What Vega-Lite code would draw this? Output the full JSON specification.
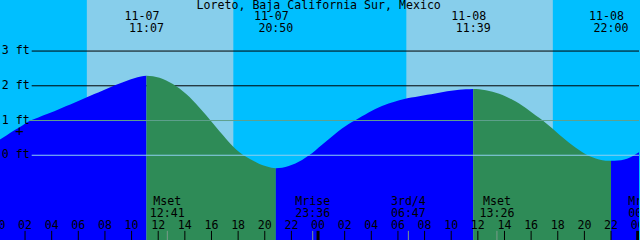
{
  "$schema": "https://vega.github.io/schema/vega-lite/v6.json",
  "width": 640,
  "height": 240,
  "padding": 0,
  "autosize": {"type": "fit", "contains": "padding"},
  "background": "#00BFFF",
  "config": {"view": {"stroke": null, "fill": "#00BFFF"}},
  "datasets": {
    "days": [{"start": 6.64, "end": 17.64}, {"start": 30.63, "end": 41.63}],
    "levels": [{"ft": 3, "lab": "3 ft"}, {"ft": 2, "lab": "2 ft"}, {"ft": 1, "lab": "1 ft"}, {"ft": 0, "lab": "0 ft"}],
    "tide": [
      {"h": 0.0, "ft": 0.42, "seg": 1, "dir": "rise"},
      {"h": 0.6, "ft": 0.57, "seg": 1, "dir": "rise"},
      {"h": 1.2, "ft": 0.72, "seg": 1, "dir": "rise"},
      {"h": 1.8, "ft": 0.86, "seg": 1, "dir": "rise"},
      {"h": 2.4, "ft": 1.0, "seg": 1, "dir": "rise"},
      {"h": 3.0, "ft": 1.09, "seg": 1, "dir": "rise"},
      {"h": 3.6, "ft": 1.18, "seg": 1, "dir": "rise"},
      {"h": 4.2, "ft": 1.27, "seg": 1, "dir": "rise"},
      {"h": 4.8, "ft": 1.37, "seg": 1, "dir": "rise"},
      {"h": 5.4, "ft": 1.46, "seg": 1, "dir": "rise"},
      {"h": 6.0, "ft": 1.56, "seg": 1, "dir": "rise"},
      {"h": 6.6, "ft": 1.66, "seg": 1, "dir": "rise"},
      {"h": 7.2, "ft": 1.76, "seg": 1, "dir": "rise"},
      {"h": 7.8, "ft": 1.86, "seg": 1, "dir": "rise"},
      {"h": 8.4, "ft": 1.96, "seg": 1, "dir": "rise"},
      {"h": 9.0, "ft": 2.05, "seg": 1, "dir": "rise"},
      {"h": 9.6, "ft": 2.14, "seg": 1, "dir": "rise"},
      {"h": 10.2, "ft": 2.22, "seg": 1, "dir": "rise"},
      {"h": 10.7, "ft": 2.27, "seg": 1, "dir": "rise"},
      {"h": 11.117, "ft": 2.29, "seg": 1, "dir": "rise"},
      {"h": 11.117, "ft": 2.29, "seg": 2, "dir": "fall"},
      {"h": 11.6, "ft": 2.275, "seg": 2, "dir": "fall"},
      {"h": 12.1, "ft": 2.23, "seg": 2, "dir": "fall"},
      {"h": 12.6, "ft": 2.15, "seg": 2, "dir": "fall"},
      {"h": 13.1, "ft": 2.05, "seg": 2, "dir": "fall"},
      {"h": 13.6, "ft": 1.92, "seg": 2, "dir": "fall"},
      {"h": 14.1, "ft": 1.76, "seg": 2, "dir": "fall"},
      {"h": 14.6, "ft": 1.58, "seg": 2, "dir": "fall"},
      {"h": 15.1, "ft": 1.37, "seg": 2, "dir": "fall"},
      {"h": 15.6, "ft": 1.15, "seg": 2, "dir": "fall"},
      {"h": 16.1, "ft": 0.92, "seg": 2, "dir": "fall"},
      {"h": 16.6, "ft": 0.69, "seg": 2, "dir": "fall"},
      {"h": 17.1, "ft": 0.47, "seg": 2, "dir": "fall"},
      {"h": 17.6, "ft": 0.26, "seg": 2, "dir": "fall"},
      {"h": 18.1, "ft": 0.09, "seg": 2, "dir": "fall"},
      {"h": 18.6, "ft": -0.04, "seg": 2, "dir": "fall"},
      {"h": 19.1, "ft": -0.15, "seg": 2, "dir": "fall"},
      {"h": 19.6, "ft": -0.25, "seg": 2, "dir": "fall"},
      {"h": 20.1, "ft": -0.32, "seg": 2, "dir": "fall"},
      {"h": 20.5, "ft": -0.36, "seg": 2, "dir": "fall"},
      {"h": 20.833, "ft": -0.374, "seg": 2, "dir": "fall"},
      {"h": 20.833, "ft": -0.374, "seg": 3, "dir": "rise"},
      {"h": 21.3, "ft": -0.36, "seg": 3, "dir": "rise"},
      {"h": 21.8, "ft": -0.31, "seg": 3, "dir": "rise"},
      {"h": 22.3, "ft": -0.24, "seg": 3, "dir": "rise"},
      {"h": 22.8, "ft": -0.14, "seg": 3, "dir": "rise"},
      {"h": 23.3, "ft": -0.01, "seg": 3, "dir": "rise"},
      {"h": 23.8, "ft": 0.14, "seg": 3, "dir": "rise"},
      {"h": 24.3, "ft": 0.3, "seg": 3, "dir": "rise"},
      {"h": 24.8, "ft": 0.46, "seg": 3, "dir": "rise"},
      {"h": 25.3, "ft": 0.62, "seg": 3, "dir": "rise"},
      {"h": 25.8, "ft": 0.77, "seg": 3, "dir": "rise"},
      {"h": 26.3, "ft": 0.9, "seg": 3, "dir": "rise"},
      {"h": 26.8, "ft": 1.01, "seg": 3, "dir": "rise"},
      {"h": 27.3, "ft": 1.12, "seg": 3, "dir": "rise"},
      {"h": 27.8, "ft": 1.23, "seg": 3, "dir": "rise"},
      {"h": 28.3, "ft": 1.33, "seg": 3, "dir": "rise"},
      {"h": 28.8, "ft": 1.42, "seg": 3, "dir": "rise"},
      {"h": 29.3, "ft": 1.49, "seg": 3, "dir": "rise"},
      {"h": 29.8, "ft": 1.55, "seg": 3, "dir": "rise"},
      {"h": 30.4, "ft": 1.61, "seg": 3, "dir": "rise"},
      {"h": 31.0, "ft": 1.66, "seg": 3, "dir": "rise"},
      {"h": 31.6, "ft": 1.7, "seg": 3, "dir": "rise"},
      {"h": 32.2, "ft": 1.74, "seg": 3, "dir": "rise"},
      {"h": 32.8, "ft": 1.78, "seg": 3, "dir": "rise"},
      {"h": 33.4, "ft": 1.82, "seg": 3, "dir": "rise"},
      {"h": 34.0, "ft": 1.855, "seg": 3, "dir": "rise"},
      {"h": 34.6, "ft": 1.885, "seg": 3, "dir": "rise"},
      {"h": 35.1, "ft": 1.9, "seg": 3, "dir": "rise"},
      {"h": 35.65, "ft": 1.91, "seg": 3, "dir": "rise"},
      {"h": 35.65, "ft": 1.91, "seg": 4, "dir": "fall"},
      {"h": 36.1, "ft": 1.9, "seg": 4, "dir": "fall"},
      {"h": 36.6, "ft": 1.87, "seg": 4, "dir": "fall"},
      {"h": 37.1, "ft": 1.83, "seg": 4, "dir": "fall"},
      {"h": 37.6, "ft": 1.77, "seg": 4, "dir": "fall"},
      {"h": 38.1, "ft": 1.69, "seg": 4, "dir": "fall"},
      {"h": 38.6, "ft": 1.6, "seg": 4, "dir": "fall"},
      {"h": 39.1, "ft": 1.49, "seg": 4, "dir": "fall"},
      {"h": 39.6, "ft": 1.36, "seg": 4, "dir": "fall"},
      {"h": 40.1, "ft": 1.22, "seg": 4, "dir": "fall"},
      {"h": 40.6, "ft": 1.08, "seg": 4, "dir": "fall"},
      {"h": 41.1, "ft": 0.93, "seg": 4, "dir": "fall"},
      {"h": 41.6, "ft": 0.77, "seg": 4, "dir": "fall"},
      {"h": 42.1, "ft": 0.6, "seg": 4, "dir": "fall"},
      {"h": 42.6, "ft": 0.44, "seg": 4, "dir": "fall"},
      {"h": 43.1, "ft": 0.29, "seg": 4, "dir": "fall"},
      {"h": 43.6, "ft": 0.15, "seg": 4, "dir": "fall"},
      {"h": 44.1, "ft": 0.03, "seg": 4, "dir": "fall"},
      {"h": 44.6, "ft": -0.06, "seg": 4, "dir": "fall"},
      {"h": 45.1, "ft": -0.12, "seg": 4, "dir": "fall"},
      {"h": 45.6, "ft": -0.155, "seg": 4, "dir": "fall"},
      {"h": 46.0, "ft": -0.16, "seg": 4, "dir": "fall"},
      {"h": 46.0, "ft": -0.16, "seg": 5, "dir": "rise"},
      {"h": 46.5, "ft": -0.15, "seg": 5, "dir": "rise"},
      {"h": 47.0, "ft": -0.12, "seg": 5, "dir": "rise"},
      {"h": 47.5, "ft": -0.05, "seg": 5, "dir": "rise"},
      {"h": 47.85, "ft": 0.03, "seg": 5, "dir": "rise"},
      {"h": 48.3, "ft": 0.13, "seg": 5, "dir": "rise"}
    ],
    "tideEvents": [
      {"h": 11.117, "date": "11-07", "time": "11:07"},
      {"h": 20.833, "date": "11-07", "time": "20:50"},
      {"h": 35.65, "date": "11-08", "time": "11:39"},
      {"h": 46.0, "date": "11-08", "time": "22:00"}
    ],
    "moon": [
      {"h": 12.683, "name": "Mset", "time": "12:41"},
      {"h": 23.6, "name": "Mrise", "time": "23:36"},
      {"h": 30.783, "name": "3rd/4", "time": "06:47"},
      {"h": 37.433, "name": "Mset", "time": "13:26"},
      {"h": 48.6, "name": "Mrise", "time": "00:36"}
    ],
    "hours": [
      {"h": 0, "lab": "00"}, {"h": 2, "lab": "02"}, {"h": 4, "lab": "04"}, {"h": 6, "lab": "06"},
      {"h": 8, "lab": "08"}, {"h": 10, "lab": "10"}, {"h": 12, "lab": "12"}, {"h": 14, "lab": "14"},
      {"h": 16, "lab": "16"}, {"h": 18, "lab": "18"}, {"h": 20, "lab": "20"}, {"h": 22, "lab": "22"},
      {"h": 24, "lab": "00"}, {"h": 26, "lab": "02"}, {"h": 28, "lab": "04"}, {"h": 30, "lab": "06"},
      {"h": 32, "lab": "08"}, {"h": 34, "lab": "10"}, {"h": 36, "lab": "12"}, {"h": 38, "lab": "14"},
      {"h": 40, "lab": "16"}, {"h": 42, "lab": "18"}, {"h": 44, "lab": "20"}, {"h": 46, "lab": "22"},
      {"h": 48, "lab": "00"}
    ],
    "title": [{"h": 24.05, "text": "Loreto, Baja California Sur, Mexico"}],
    "marker": [{"h": 1.58, "ft": 0.78}]
  },
  "layer": [
    {
      "data": {"name": "days"},
      "mark": {"type": "rect", "color": "#87CEEB", "clip": true},
      "encoding": {
        "x": {"field": "start", "type": "quantitative", "scale": {"domain": [0.12, 48.1], "nice": false, "zero": false}, "axis": null},
        "x2": {"field": "end"}
      }
    },
    {
      "data": {"name": "levels"},
      "transform": [{"filter": "datum.ft >= 2"}],
      "mark": {"type": "rule", "color": "#000000", "strokeWidth": 1},
      "encoding": {
        "x": {"datum": 2.5, "type": "quantitative", "scale": {"domain": [0.12, 48.1], "nice": false, "zero": false}, "axis": null},
        "x2": {"datum": 48.1},
        "y": {"field": "ft", "type": "quantitative", "scale": {"domain": [-2.44, 4.47], "nice": false, "zero": false}, "axis": null}
      }
    },
    {
      "data": {"name": "tide"},
      "mark": {"type": "area", "interpolate": "monotone", "clip": true},
      "encoding": {
        "x": {"field": "h", "type": "quantitative", "scale": {"domain": [0.12, 48.1], "nice": false, "zero": false}, "axis": null},
        "y": {"field": "ft", "type": "quantitative", "scale": {"domain": [-2.44, 4.47], "nice": false, "zero": false}, "axis": null},
        "y2": {"datum": -2.44},
        "detail": {"field": "seg", "type": "nominal"},
        "color": {"field": "dir", "type": "nominal", "scale": {"domain": ["rise", "fall"], "range": ["#0000FF", "#2E8B57"]}, "legend": null}
      }
    },
    {
      "data": {"name": "levels"},
      "transform": [{"filter": "datum.ft == 1"}],
      "mark": {"type": "rule", "color": "#5FA08E", "strokeWidth": 1},
      "encoding": {
        "x": {"datum": 2.3, "type": "quantitative", "scale": {"domain": [0.12, 48.1], "nice": false, "zero": false}, "axis": null},
        "x2": {"datum": 48.1},
        "y": {"field": "ft", "type": "quantitative", "scale": {"domain": [-2.44, 4.47], "nice": false, "zero": false}, "axis": null}
      }
    },
    {
      "data": {"name": "levels"},
      "transform": [{"filter": "datum.ft == 0"}],
      "mark": {"type": "rule", "color": "#8FD0F0", "strokeWidth": 1},
      "encoding": {
        "x": {"datum": 2.5, "type": "quantitative", "scale": {"domain": [0.12, 48.1], "nice": false, "zero": false}, "axis": null},
        "x2": {"datum": 48.1},
        "y": {"field": "ft", "type": "quantitative", "scale": {"domain": [-2.44, 4.47], "nice": false, "zero": false}, "axis": null}
      }
    },
    {
      "data": {"name": "levels"},
      "mark": {"type": "text", "align": "left", "baseline": "middle", "font": "DejaVu Sans Mono", "fontSize": 11.6, "color": "#000000"},
      "encoding": {
        "x": {"datum": 0.25, "type": "quantitative", "scale": {"domain": [0.12, 48.1], "nice": false, "zero": false}, "axis": null},
        "y": {"field": "ft", "type": "quantitative", "scale": {"domain": [-2.44, 4.47], "nice": false, "zero": false}, "axis": null},
        "text": {"field": "lab"}
      }
    },
    {
      "data": {"name": "tideEvents"},
      "mark": {"type": "text", "align": "center", "baseline": "middle", "font": "DejaVu Sans Mono", "fontSize": 11.6, "color": "#000000", "dx": -4.5},
      "encoding": {
        "x": {"field": "h", "type": "quantitative", "scale": {"domain": [0.12, 48.1], "nice": false, "zero": false}, "axis": null},
        "y": {"datum": 3.98, "type": "quantitative", "scale": {"domain": [-2.44, 4.47], "nice": false, "zero": false}, "axis": null},
        "text": {"field": "date"}
      }
    },
    {
      "data": {"name": "tideEvents"},
      "mark": {"type": "text", "align": "center", "baseline": "middle", "font": "DejaVu Sans Mono", "fontSize": 11.6, "color": "#000000"},
      "encoding": {
        "x": {"field": "h", "type": "quantitative", "scale": {"domain": [0.12, 48.1], "nice": false, "zero": false}, "axis": null},
        "y": {"datum": 3.635, "type": "quantitative", "scale": {"domain": [-2.44, 4.47], "nice": false, "zero": false}, "axis": null},
        "text": {"field": "time"}
      }
    },
    {
      "data": {"name": "moon"},
      "mark": {"type": "text", "align": "center", "baseline": "middle", "font": "DejaVu Sans Mono", "fontSize": 11.6, "color": "#000000", "clip": true},
      "encoding": {
        "x": {"field": "h", "type": "quantitative", "scale": {"domain": [0.12, 48.1], "nice": false, "zero": false}, "axis": null},
        "y": {"datum": -1.352, "type": "quantitative", "scale": {"domain": [-2.44, 4.47], "nice": false, "zero": false}, "axis": null},
        "text": {"field": "name"}
      }
    },
    {
      "data": {"name": "moon"},
      "mark": {"type": "text", "align": "center", "baseline": "middle", "font": "DejaVu Sans Mono", "fontSize": 11.6, "color": "#000000", "clip": true},
      "encoding": {
        "x": {"field": "h", "type": "quantitative", "scale": {"domain": [0.12, 48.1], "nice": false, "zero": false}, "axis": null},
        "y": {"datum": -1.68, "type": "quantitative", "scale": {"domain": [-2.44, 4.47], "nice": false, "zero": false}, "axis": null},
        "text": {"field": "time"}
      }
    },
    {
      "data": {"name": "moon"},
      "mark": {"type": "rule", "color": "#7A9A8A", "strokeWidth": 1, "clip": true},
      "encoding": {
        "x": {"field": "h", "type": "quantitative", "scale": {"domain": [0.12, 48.1], "nice": false, "zero": false}, "axis": null},
        "y": {"datum": -2.177, "type": "quantitative", "scale": {"domain": [-2.44, 4.47], "nice": false, "zero": false}, "axis": null},
        "y2": {"datum": -2.44}
      }
    },
    {
      "data": {"name": "hours"},
      "mark": {"type": "rule", "color": "#000000", "clip": true},
      "encoding": {
        "x": {"field": "h", "type": "quantitative", "scale": {"domain": [0.12, 48.1], "nice": false, "zero": false}, "axis": null},
        "y": {"datum": -2.177, "type": "quantitative", "scale": {"domain": [-2.44, 4.47], "nice": false, "zero": false}, "axis": null},
        "y2": {"datum": -2.44},
        "strokeWidth": {"condition": {"test": "datum.h % 24 == 0", "value": 3}, "value": 1}
      }
    },
    {
      "data": {"name": "hours"},
      "mark": {"type": "text", "align": "center", "baseline": "middle", "font": "DejaVu Sans Mono", "fontSize": 11.6, "color": "#000000", "clip": true},
      "encoding": {
        "x": {"field": "h", "type": "quantitative", "scale": {"domain": [0.12, 48.1], "nice": false, "zero": false}, "axis": null},
        "y": {"datum": -2.025, "type": "quantitative", "scale": {"domain": [-2.44, 4.47], "nice": false, "zero": false}, "axis": null},
        "text": {"field": "lab"}
      }
    },
    {
      "data": {"name": "title"},
      "mark": {"type": "text", "align": "center", "baseline": "middle", "font": "DejaVu Sans Mono", "fontSize": 11.6, "color": "#000000"},
      "encoding": {
        "x": {"field": "h", "type": "quantitative", "scale": {"domain": [0.12, 48.1], "nice": false, "zero": false}, "axis": null},
        "y": {"datum": 4.29, "type": "quantitative", "scale": {"domain": [-2.44, 4.47], "nice": false, "zero": false}, "axis": null},
        "text": {"field": "text"}
      }
    },
    {
      "data": {"name": "marker"},
      "mark": {"type": "text", "align": "center", "baseline": "middle", "font": "DejaVu Sans Mono", "fontSize": 14, "color": "#000000", "text": "+", "dy": 4},
      "encoding": {
        "x": {"field": "h", "type": "quantitative", "scale": {"domain": [0.12, 48.1], "nice": false, "zero": false}, "axis": null},
        "y": {"field": "ft", "type": "quantitative", "scale": {"domain": [-2.44, 4.47], "nice": false, "zero": false}, "axis": null}
      }
    }
  ]
}
